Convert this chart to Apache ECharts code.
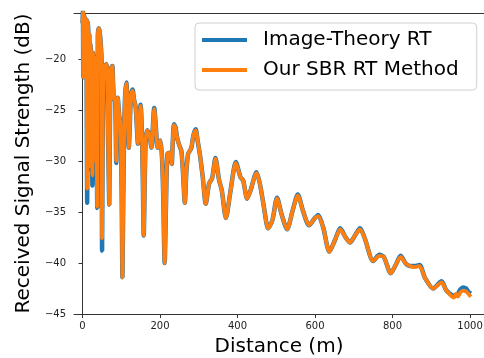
<!DOCTYPE html>
<html>
<head>
<meta charset="utf-8">
<script src="https://cdn.jsdelivr.net/npm/echarts@6/dist/echarts.min.js"></script>
<style>
  html, body { margin: 0; padding: 0; background: #fff; }
  #chart { width: 484px; height: 358px; }
</style>
</head>
<body>
<div id="chart"></div>
<script>
// distance (m) sampled along the route
const distance = [
  0, 1, 2, 3, 4, 5, 6, 7, 8.5, 10, 11, 12, 13.5, 15, 16, 17.5, 19, 20.5, 22, 24,
  25.5, 27, 28.5, 30, 32, 34, 36, 38, 39.5, 41, 43, 45, 47, 49, 50.5, 52, 54, 56, 58, 60,
  62, 64, 65.5, 67, 69, 71, 73, 75, 77, 79, 81, 83, 85, 87, 89, 91, 93, 95, 97, 99,
  101, 103, 105, 107.5, 110, 113, 116, 119.5, 122, 125, 129, 133, 137, 140, 143, 147, 150, 153, 155.5, 158,
  160.5, 163, 167, 171, 174, 178, 181, 185, 189, 193.5, 197, 201, 205, 208, 212, 215, 219, 225, 230, 233,
  236, 240, 244, 250, 255, 259, 264, 268, 272.5, 277, 281, 286, 292, 297, 303, 310, 318, 326.7, 334.5, 343,
  352, 359.5, 370, 382, 395.6, 407.7, 414.5, 424.8, 433.5, 449, 457.5, 468, 479, 490, 502, 513.5, 528, 542, 555.5, 569,
  584.5, 599.5, 608, 621, 637, 651, 665, 679, 690, 703, 716, 728.5, 750, 766, 777.5, 795.5, 808, 821, 833, 845,
  858, 870, 883, 905, 926.5, 939, 958, 964, 969, 975, 982, 990, 995, 1002
];

// Image-Theory RT (dB)
const imageTheory = [
  -16.5, -15.3, -21.8, -15.6, -21.5, -15.8, -21.0, -16.0, -21.6, -16.1, -25.5, -34.1, -16.3, -17.5, -29.8, -17.6, -30.8, -18.5, -19.5, -26.5,
  -32.4, -19.4, -31.0, -19.8, -22.0, -20.5, -25.0, -34.6, -17.8, -17.0, -17.1, -17.6, -18.5, -20.0, -38.8, -27.0, -22.0, -21.0, -20.6, -21.5,
  -20.5, -21.5, -27.0, -30.0, -34.3, -25.0, -21.0, -20.8, -20.7, -22.5, -24.0, -23.6, -25.0, -30.2, -25.0, -23.8, -24.8, -25.7, -26.0, -28.0,
  -33.0, -41.4, -34.0, -27.0, -23.5, -22.3, -24.5, -28.7, -26.5, -23.5, -23.0, -24.0, -24.7, -26.5, -28.3, -26.0, -24.5, -27.0, -31.5, -37.3,
  -32.0, -28.0, -27.0, -27.3, -27.7, -28.7, -27.0, -24.8, -26.5, -28.7, -28.5, -28.0, -29.6, -33.0, -40.0, -35.0, -29.3, -29.2, -30.3, -28.0,
  -26.4, -26.7, -27.7, -28.5, -29.0, -31.0, -34.1, -31.0, -29.3, -29.0, -28.7, -27.5, -26.9, -28.0, -29.4, -31.5, -34.2, -32.2, -31.7, -29.7,
  -31.8, -32.9, -35.6, -32.9, -30.1, -31.6, -31.9, -33.7, -32.9, -31.1, -32.2, -34.5, -36.6, -35.8, -33.6, -35.2, -36.7, -34.9, -33.3, -34.9,
  -36.3, -35.6, -35.3, -36.5, -38.9, -37.8, -36.6, -37.5, -38.0, -37.3, -36.6, -37.6, -39.8, -39.2, -39.4, -41.0, -40.2, -39.3, -40.0, -40.3,
  -40.3, -40.2, -41.4, -42.5, -41.8, -42.7, -43.2, -43.1, -43.0, -42.6, -42.4, -42.5, -42.8, -43.0
];

// Our SBR RT Method (dB)
const sbr = [
  -16.5, -15.3, -21.8, -15.6, -21.5, -15.8, -21.0, -16.0, -21.6, -16.1, -25.0, -32.7, -16.3, -17.5, -29.5, -17.6, -30.5, -18.5, -19.5, -26.0,
  -31.4, -19.4, -30.0, -19.8, -22.0, -20.5, -25.0, -34.5, -17.8, -17.0, -17.1, -17.6, -18.5, -20.0, -37.6, -27.0, -22.0, -21.0, -20.6, -21.5,
  -20.5, -21.5, -27.0, -30.0, -34.3, -25.0, -21.0, -20.8, -20.7, -22.5, -24.0, -23.6, -25.0, -30.0, -25.0, -23.8, -24.8, -25.7, -26.0, -28.0,
  -33.0, -41.4, -34.0, -27.0, -23.5, -22.4, -24.5, -28.7, -26.5, -23.5, -23.1, -24.0, -24.7, -26.5, -28.3, -26.0, -24.6, -27.0, -31.5, -37.3,
  -32.0, -28.0, -27.0, -27.3, -27.7, -28.7, -27.0, -24.9, -26.5, -28.7, -28.5, -28.0, -29.6, -33.0, -40.0, -35.0, -29.3, -29.2, -30.3, -28.0,
  -26.5, -26.8, -27.7, -28.5, -29.0, -31.0, -34.1, -31.0, -29.3, -29.0, -28.7, -27.5, -27.0, -28.0, -29.4, -31.5, -34.2, -32.2, -31.7, -29.8,
  -31.8, -32.9, -35.6, -32.9, -30.2, -31.6, -31.9, -33.7, -32.9, -31.2, -32.2, -34.5, -36.6, -35.8, -33.7, -35.2, -36.7, -34.9, -33.4, -34.9,
  -36.3, -35.6, -35.4, -36.5, -38.9, -37.8, -36.7, -37.5, -38.0, -37.3, -36.7, -37.6, -39.8, -39.3, -39.4, -41.0, -40.2, -39.4, -40.0, -40.3,
  -40.4, -40.3, -41.4, -42.5, -41.9, -42.7, -43.4, -43.0, -43.3, -42.9, -42.7, -42.8, -43.0, -43.3
];

const seriesNames = ['Image-Theory RT', 'Our SBR RT Method'];
const seriesColors = ['#1f77b4', '#ff7f0e'];

const FONT = 'DejaVu Sans';
const chart = echarts.init(document.getElementById('chart'));

const minus = v => String(v).replace('-', '\u2212');

chart.setOption({
  animation: false,
  grid: { left: 74, top: 13, right: 0, bottom: 44, outerBoundsMode: 'none', containLabel: false },
  legend: {
    orient: 'vertical',
    left: 195,
    top: 23,
    icon: 'rect',
    itemWidth: 45,
    itemHeight: 4,
    itemGap: 10,
    padding: [7, 18, 10, 7],
    borderColor: '#d0d0d0',
    borderWidth: 1,
    borderRadius: 4,
    backgroundColor: 'rgba(255,255,255,0.8)',
    textStyle: { fontSize: 20, fontFamily: FONT, color: '#000', padding: [0, 0, 0, 11] },
    data: seriesNames
  },
  xAxis: [
    {
      type: 'value',
      min: -22,
      max: 1036,
      splitNumber: 5,
      name: 'Distance (m)',
      nameLocation: 'middle',
      nameGap: 23,
      nameTextStyle: { fontSize: 20, fontFamily: FONT, color: '#000' },
      axisLine: { lineStyle: { color: '#333', width: 1 } },
      axisTick: { length: 4, lineStyle: { color: '#333' } },
      axisLabel: {
        fontSize: 10, fontFamily: FONT, color: '#222', margin: 7,
        showMinLabel: false, showMaxLabel: false, formatter: v => String(v)
      },
      splitLine: { show: false }
    },
    {
      type: 'value',
      position: 'top',
      min: -22,
      max: 1036,
      axisLine: { show: true, lineStyle: { color: '#333', width: 1 } },
      axisTick: { show: false },
      axisLabel: { show: false },
      splitLine: { show: false }
    }
  ],
  yAxis: {
    type: 'value',
    min: -45,
    max: -15.5,
    interval: 5,
    name: 'Received Signal Strength (dB)',
    nameLocation: 'middle',
    nameGap: 40,
    nameTextStyle: { fontSize: 20, fontFamily: FONT, color: '#000' },
    axisLine: { show: true, lineStyle: { color: '#333', width: 1 } },
    axisTick: { show: true, length: 4, lineStyle: { color: '#333' } },
    axisLabel: { fontSize: 10, fontFamily: FONT, color: '#222', margin: 8, showMaxLabel: false, formatter: minus },
    splitLine: { show: false }
  },
  series: [
    {
      name: seriesNames[0],
      type: 'line',
      data: distance.map((d, i) => [d, imageTheory[i]]),
      showSymbol: false,
      smooth: 0.25,
      color: seriesColors[0],
      lineStyle: { width: 4.5, color: seriesColors[0] }
    },
    {
      name: seriesNames[1],
      type: 'line',
      data: distance.map((d, i) => [d, sbr[i]]),
      showSymbol: false,
      smooth: 0.25,
      color: seriesColors[1],
      lineStyle: { width: 3.8, color: seriesColors[1] }
    }
  ]
});
</script>
</body>
</html>
